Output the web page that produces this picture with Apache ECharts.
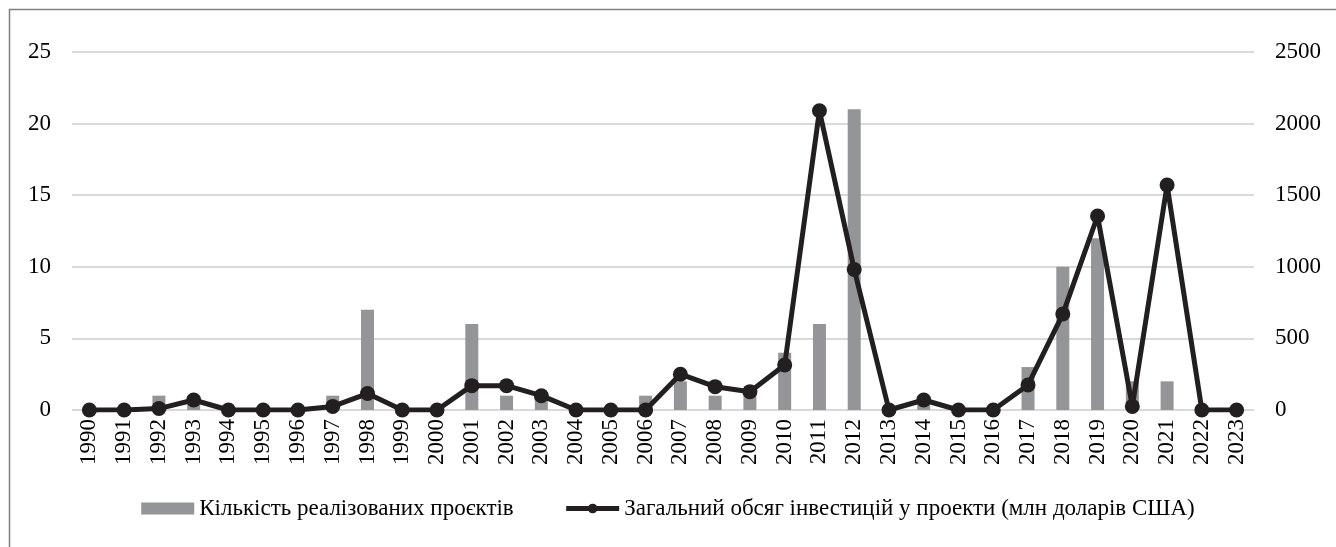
<!DOCTYPE html>
<html>
<head>
<meta charset="utf-8">
<script src="https://cdn.jsdelivr.net/npm/echarts@6/dist/echarts.min.js"></script>
<style>
html,body{margin:0;padding:0;background:#fff;}
#chart{width:1336px;height:547px;}
</style>
</head>
<body>
<div id="chart"></div>
<script>
var years = ['1990','1991','1992','1993','1994','1995','1996','1997','1998','1999','2000','2001','2002','2003','2004','2005','2006','2007','2008','2009','2010','2011','2012','2013','2014','2015','2016','2017','2018','2019','2020','2021','2022','2023'];
var projects = [0,0,1,1,0,0,0,1,7,0,0,6,1,1,0,0,1,2,1,1,4,6,21,0,1,0,0,3,10,12,2,2,0,0];
var investment = [0,0,10,70,0,0,0,25,115,0,0,170,170,100,0,0,0,250,163,128,314,2090,982,0,70,0,0,175,670,1355,25,1571,0,0];
var seriesNames = ['Кількість реалізованих проєктів','Загальний обсяг інвестицій у проекти (млн доларів США)'];

var FONT = 'Liberation Serif';
function lab(extra){
  var o = {fontFamily:FONT,fontSize:23,color:'#000'};
  for (var k in extra) o[k] = extra[k];
  return o;
}
var option = {
  animation:true,
  animationDuration:30,
  animationDurationUpdate:30,
  backgroundColor:'#fff',
  textStyle:{fontFamily:FONT},
  graphic:[{type:'rect', shape:{x:9.5,y:9.5,width:3000,height:3000}, style:{fill:'none',stroke:'#808080',lineWidth:1.5}, silent:true}],
  grid:{left:72,right:82,top:52,bottom:137,containLabel:false},
  legend:{
    bottom:22,left:'center',itemGap:50,
    textStyle:lab({}),
    data:[
      {name:seriesNames[0],icon:'rect',itemStyle:{color:'#939598'}},
      {name:seriesNames[1],lineStyle:{width:5,color:'#231f20'},itemStyle:{color:'#231f20'}}
    ],
    itemWidth:53,itemHeight:12
  },
  xAxis:{
    type:'category',data:years,boundaryGap:true,
    axisLine:{show:false},axisTick:{show:false},
    axisLabel:lab({rotate:90,margin:9,interval:0})
  },
  yAxis:[
    {type:'value',min:0,max:25,interval:5,position:'left',
     axisLine:{show:false},axisTick:{show:false},
     axisLabel:lab({margin:21,formatter:function(v){return String(v);}}),
     splitLine:{lineStyle:{color:'#d9d9d9',width:2}}},
    {type:'value',min:0,max:2500,interval:500,position:'right',
     axisLine:{show:false},axisTick:{show:false},
     axisLabel:lab({margin:21,formatter:function(v){return String(v);}}),
     splitLine:{show:false}}
  ],
  series:[
    {name:seriesNames[0],type:'bar',yAxisIndex:0,data:projects,barWidth:13,
     itemStyle:{color:'#939598'}},
    {name:seriesNames[1],type:'line',yAxisIndex:1,data:investment,
     symbol:'circle',symbolSize:15,
     lineStyle:{color:'#231f20',width:5},
     itemStyle:{color:'#231f20'}}
  ]
};
var chart = echarts.init(document.getElementById('chart'));
chart.setOption(option);
setTimeout(function(){ chart.setOption(option, true); }, 150);
</script>
</body>
</html>
